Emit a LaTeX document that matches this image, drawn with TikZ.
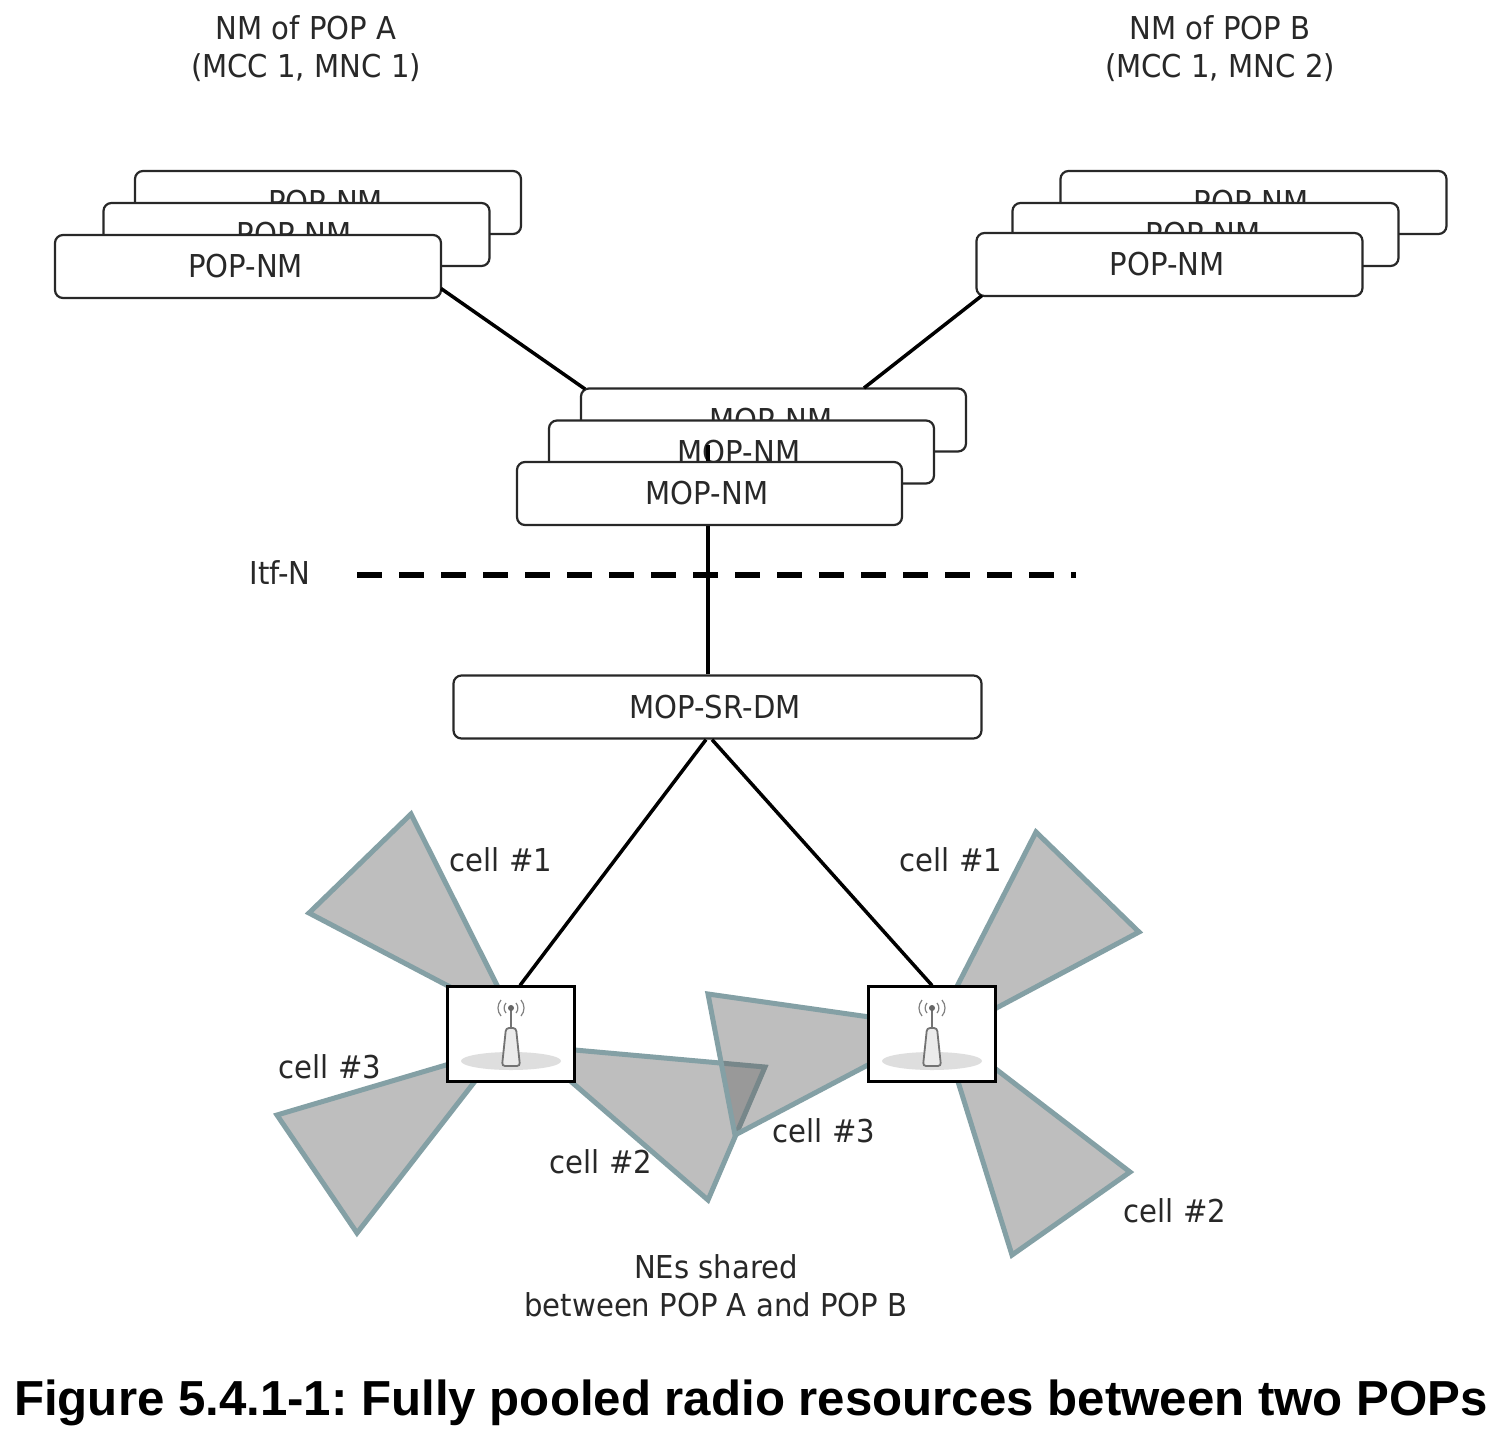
\documentclass[tikz,border=0pt]{standalone}
\usepackage{fontspec}
\setmainfont{DejaVu Sans}[FakeStretch=0.925]
\newfontfamily\capfont{Liberation Sans}
\definecolor{ink}{RGB}{40,40,40}
\definecolor{edgeteal}{RGB}{132,160,165}
\tikzset{
  x=1pt,y=-1pt,
  lbl/.style={font=\fontsize{31.5}{38}\selectfont,text=ink,inner sep=0pt,align=center},
  nmbox/.style={draw=ink,fill=white,line width=2.2pt,rounded corners=8pt,minimum width=386pt,minimum height=63pt,inner sep=0pt,font=\fontsize{31.5}{38}\selectfont,text=ink,execute at begin node={\kern-5pt}},
  link/.style={draw=black,line width=3.5pt},
  cellshape/.style={draw=edgeteal,line width=5pt,fill=black!60,fill opacity=.42,line join=miter},
  sitebox/.style={draw=black,fill=white,line width=2.2pt,minimum width=127pt,minimum height=95pt,inner sep=0pt},
  mast/.pic={
    \fill[black!13] (0,27) ellipse [x radius=50pt,y radius=9pt];
    \draw[black!55,line width=1.8pt,fill=black!8,rounded corners=3pt] (-9,32) -- (-5,-6) -- (5,-6) -- (9,32) -- cycle;
    \draw[black!55,line width=1.8pt] (0,-26) -- (0,-6);
    \fill[black!60] (0,-26) circle [radius=3pt];
    \draw[black!50,line width=1.2pt] (5,-31) to[bend left=40] (5,-21) (-5,-31) to[bend right=40] (-5,-21)
      (10,-34) to[bend left=40] (10,-18) (-10,-34) to[bend right=40] (-10,-18);
  }
}
\begin{document}
\begin{tikzpicture}
\useasboundingbox (0,0) rectangle (1512,1446);
\fill[white] (0,0) rectangle (1512,1446);
% titles
\node[lbl] (titleA) at (306,49) {NM of POP A\\(MCC 1, MNC 1)};
\node[lbl] (titleB) at (1220,49) {NM of POP B\\(MCC 1, MNC 2)};
% cells, left site
\draw[cellshape] (515,1021) -- (411,814) -- (309,913) -- cycle;
\draw[cellshape] (500,1049) -- (277,1115) -- (357,1233) -- cycle;
\draw[cellshape] (530,1046) -- (765,1067) -- (708,1200) -- cycle;
% cells, right site
\draw[cellshape] (940,1027) -- (708,994) -- (735,1135) -- cycle;
\draw[cellshape] (927,1045) -- (1036,832) -- (1139,932) -- cycle;
\draw[cellshape] (941,1027) -- (1130,1172) -- (1012,1255) -- cycle;
% nodes needed by the connectors
\node[nmbox,minimum width=528pt] (dm) at (717.5,707) {MOP-SR-DM};
\node[sitebox] (siteL) at (511,1034) {};
\node[sitebox] (siteR) at (932,1034) {};
\pic at (siteL.center) {mast};
\pic at (siteR.center) {mast};
% POP A stack
\node[nmbox] (popA3) at (328,202.5) {POP-NM};
\node[nmbox] (popA2) at (296.5,234.5) {POP-NM};
\node[nmbox] (popA1) at (248,266.5) {POP-NM};
% POP B stack
\node[nmbox] (popB3) at (1253.5,202.5) {POP-NM};
\node[nmbox] (popB2) at (1205.5,234.5) {POP-NM};
\node[nmbox] (popB1) at (1169.5,264.5) {POP-NM};
% MOP stack
\node[nmbox,minimum width=385pt] (mop3) at (773.5,420) {MOP-NM};
\draw[link] ([xshift=193pt,yshift=-22pt]popA1.center) -- ([xshift=-188.5pt,yshift=31pt]mop3.center);
\draw[link] ([xshift=-187.5pt,yshift=-31pt]popB1.center) -- ([xshift=90.5pt,yshift=32pt]mop3.center);
\node[nmbox,minimum width=385pt] (mop2) at (741.5,452) {MOP-NM};
\draw[link] ([xshift=-9.5pt]dm.north) -- ([xshift=-33.5pt,yshift=7pt]mop2.center);
\node[nmbox,minimum width=385pt] (mop1) at (709.5,493.5) {\raisebox{-2pt}{MOP-NM}};
% interface
\node[lbl] (itf) at (280,573) {Itf-N};
\coordinate (dashL) at (357,575);
\coordinate (dashR) at (1076,575);
\draw[black,line width=5.5pt,dash pattern=on 25pt off 17pt] (dashL) -- (dashR);
% lower connectors
\draw[link] ([xshift=-11.5pt]dm.south) -- ([xshift=9pt]siteL.north);
\draw[link] ([xshift=-5.5pt]dm.south) -- (siteR.north);
% labels
\node[lbl] (c1L) at (501,860) {cell \#1};
\node[lbl] (c2L) at (601,1162) {cell \#2};
\node[lbl] (c3L) at (330,1067) {cell \#3};
\node[lbl] (c1R) at (951,860) {cell \#1};
\node[lbl] (c2R) at (1175,1211) {cell \#2};
\node[lbl] (c3R) at (824,1131) {cell \#3};
\node[lbl] (shared) at (716,1286) {NEs shared\\between POP A and POP B};
\node[inner sep=0pt,text=black,font=\capfont\bfseries\fontsize{49.2}{58}\selectfont\frenchspacing] (caption) at (751,1403) {Figure 5.4.1-1: Fully pooled radio resources between two POPs};
\end{tikzpicture}
\end{document}
